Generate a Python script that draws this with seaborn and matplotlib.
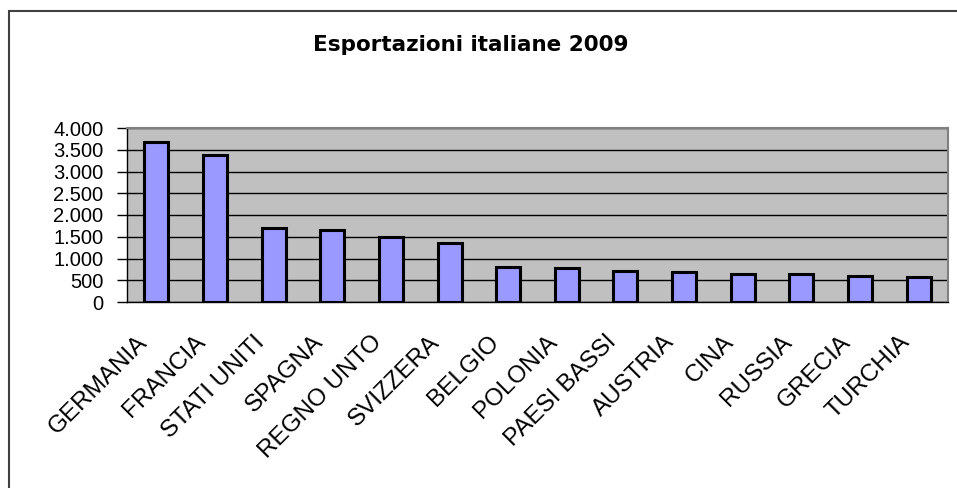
import matplotlib
matplotlib.use('Agg')
import matplotlib.pyplot as plt
import matplotlib.transforms as mtransforms
import seaborn as sns
import pandas as pd
from matplotlib.ticker import FuncFormatter, FixedLocator, MultipleLocator
from matplotlib.patches import Rectangle


# Esportazioni italiane 2009, primi 14 paesi

paesi = ['GERMANIA', 'FRANCIA', 'STATI UNITI', 'SPAGNA', 'REGNO UNTO', 'SVIZZERA',
         'BELGIO', 'POLONIA', 'PAESI BASSI', 'AUSTRIA', 'CINA', 'RUSSIA',
         'GRECIA', 'TURCHIA']
valori = [3680, 3390, 1710, 1655, 1495, 1355, 810, 790, 705, 690, 650, 645, 605, 565]
titolo = 'Esportazioni italiane 2009'


def migliaia(v, pos):
    return '{:,.0f}'.format(v).replace(',', '.')


def plot():
    sns.set_style('white')
    plt.rcParams['font.family'] = ['Liberation Sans', 'DejaVu Sans']
    plt.rcParams['text.color'] = 'black'
    plt.rcParams['xtick.color'] = 'black'
    plt.rcParams['ytick.color'] = 'black'
    plt.rcParams['axes.labelcolor'] = 'black'

    data = pd.DataFrame({'paese': paesi, 'valore': valori})

    fig = plt.figure(figsize=(9.57, 4.88), dpi=100)
    ax = fig.add_axes([127 / 957, 1 - 302 / 488, (948 - 127) / 957, (302 - 128) / 488])

    sns.barplot(data=data, x='paese', y='valore', color='#9999FF', saturation=1,
                width=0.41, edgecolor='black', linewidth=2.2, ax=ax, zorder=3)

    ax.set_facecolor('#C0C0C0')
    ax.set_ylim(0, 4000)
    ax.set_xlim(-0.5, len(paesi) - 0.5)
    ax.yaxis.set_major_locator(MultipleLocator(500))
    ax.yaxis.set_major_formatter(FuncFormatter(migliaia))
    ax.yaxis.grid(True, color='black', linewidth=1, zorder=0)
    ax.set_axisbelow(True)
    ax.set_xlabel('')
    ax.set_ylabel('')

    for s in ('top', 'right'):
        ax.spines[s].set_color('#808080')
        ax.spines[s].set_linewidth(1.5)
    for s in ('left', 'bottom'):
        ax.spines[s].set_color('black')
        ax.spines[s].set_linewidth(1)

    # tacche tra le categorie, etichette al centro
    ax.xaxis.set_minor_locator(FixedLocator([i - 0.5 for i in range(len(paesi) + 1)]))
    ax.tick_params(axis='x', which='major', length=0, pad=21)
    ax.tick_params(axis='x', which='minor', length=7, width=1, color='black', direction='out')
    ax.tick_params(axis='y', length=7, width=1, color='black', direction='out', pad=10,
                   labelsize=14.5, left=True)
    ax.set_xticks(range(len(paesi)))
    ax.set_xticklabels(paesi, rotation=45, ha='right', va='top', fontsize=17.5,
                       color='black')
    sposta = mtransforms.ScaledTranslation(-5 / 100, 0, fig.dpi_scale_trans)
    for lab in ax.get_xticklabels():
        lab.set_transform(lab.get_transform() + sposta)

    fig.text(471 / 957, 1 - 45 / 488, titolo, ha='center', va='center', color='black',
             fontsize=15.5, fontweight='bold', family='DejaVu Sans')

    fig.patches.append(Rectangle((9 / 957, -0.1), 1.2, 1 - 11 / 488 + 0.1,
                                 transform=fig.transFigure, fill=False,
                                 edgecolor='#404040', linewidth=1.5))

    fig.savefig('out.png', dpi=100)


if __name__ == "__main__":
    plot()
